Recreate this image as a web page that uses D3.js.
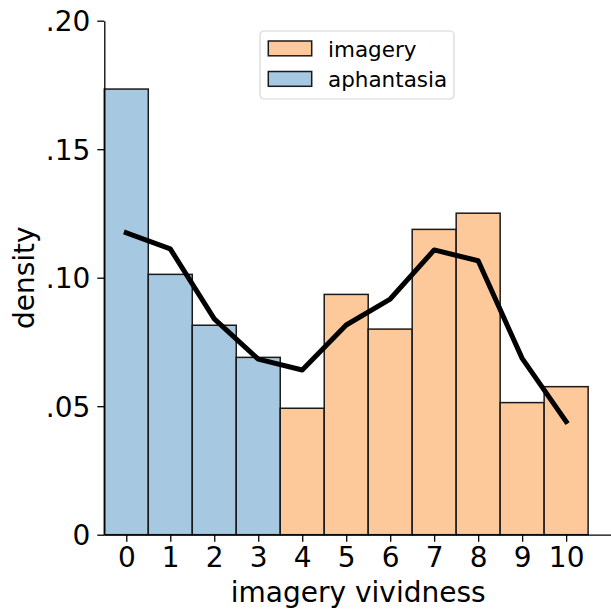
<!DOCTYPE html>
<html>
<head>
<meta charset="utf-8">
<script src="https://cdn.jsdelivr.net/npm/d3@7"></script>
<style>
  body { margin: 0; background: #fff; }
  text { font-family: "DejaVu Sans", sans-serif; fill: #000; }
</style>
</head>
<body>
<script>
// data
var scores = [0, 1, 2, 3, 4, 5, 6, 7, 8, 9, 10];
var aphantasiaScores = [0, 1, 2, 3];
var aphantasiaDensity = [0.1734, 0.1013, 0.0815, 0.0690];
var imageryScores = [4, 5, 6, 7, 8, 9, 10];
var imageryDensity = [0.0492, 0.0935, 0.0800, 0.1188, 0.1251, 0.0514, 0.0576];
var lineDensity = [0.1175, 0.1112, 0.0840, 0.0683, 0.0641, 0.0816, 0.0917, 0.1108, 0.1066, 0.0686, 0.0440];
var yTicks = [0, 0.05, 0.10, 0.15, 0.20];
var yTickLabels = ["0", ".05", ".10", ".15", ".20"];
var legendNames = ["imagery", "aphantasia"];
var legendColors = ["#fdc89a", "#a6c8e0"];

// Step 1: chart size
var svgWidth = 611;
var svgHeight = 610;
var margin = { top: 20.7, right: 0, bottom: 75.3, left: 104.3 };
var height = svgHeight - margin.top - margin.bottom;

var svg = d3.select("body").append("svg")
  .attr("width", svgWidth)
  .attr("height", svgHeight);

var chartGroup = svg.append("g")
  .attr("transform", `translate(${margin.left}, ${margin.top})`);

// Step 2: scales
var xScale = d3.scaleLinear()
  .domain([-0.5, 11.02])
  .range([0, svgWidth - margin.left]);

var yScale = d3.scaleLinear()
  .domain([0, 0.2])
  .range([height, 0]);

// Step 3: bars
function drawBars(xs, ys, color) {
  chartGroup.append("g")
    .selectAll("rect")
    .data(xs)
    .enter()
    .append("rect")
    .attr("x", d => xScale(d - 0.5))
    .attr("width", xScale(1) - xScale(0))
    .attr("y", (d, i) => yScale(ys[i]))
    .attr("height", (d, i) => yScale(0) - yScale(ys[i]))
    .attr("fill", color)
    .attr("stroke", "#1a1a1a")
    .attr("stroke-width", 1.5);
}
drawBars(aphantasiaScores, aphantasiaDensity, legendColors[1]);
drawBars(imageryScores, imageryDensity, legendColors[0]);

// Step 4: line
var line = d3.line()
  .x((d, i) => xScale(scores[i]))
  .y(d => yScale(d));

chartGroup.append("path")
  .datum(lineDensity)
  .attr("d", line)
  .attr("fill", "none")
  .attr("stroke", "#000")
  .attr("stroke-width", 5)
  .attr("stroke-linejoin", "round")
  .attr("stroke-linecap", "square");

// Step 5: axes
var bottomAxis = d3.axisBottom(xScale)
  .tickValues(scores)
  .tickFormat(d3.format("d"))
  .tickSizeInner(7)
  .tickSizeOuter(0)
  .tickPadding(5);

var leftAxis = d3.axisLeft(yScale)
  .tickValues(yTicks)
  .tickFormat((d, i) => yTickLabels[i])
  .tickSizeInner(7)
  .tickSizeOuter(0)
  .tickPadding(7);

var xAxisG = chartGroup.append("g")
  .attr("transform", `translate(0, ${height})`)
  .call(bottomAxis);

var yAxisG = chartGroup.append("g").call(leftAxis);

[xAxisG, yAxisG].forEach(function(g) {
  g.selectAll("path, line").attr("stroke", "#000").attr("stroke-width", 1.3);
  g.selectAll("text")
    .style("font-family", "'DejaVu Sans', sans-serif")
    .style("font-size", "28px")
    .attr("fill", "#000");
});
yAxisG.selectAll("text").attr("dy", "0.36em");

// Step 6: axis labels
chartGroup.append("text")
  .attr("x", (xScale(-0.5) + xScale(10.5)) / 2 + 12)
  .attr("y", 602 - margin.top)
  .attr("text-anchor", "middle")
  .style("font-size", "28px")
  .text("imagery vividness");

chartGroup.append("text")
  .attr("transform", "rotate(-90)")
  .attr("x", -height / 2)
  .attr("y", 34 - margin.left)
  .attr("text-anchor", "middle")
  .style("font-size", "28px")
  .text("density");

// Step 7: legend
var legend = svg.append("g").attr("transform", "translate(260, 31)");
legend.append("rect")
  .attr("width", 194)
  .attr("height", 68)
  .attr("rx", 4)
  .attr("fill", "#fff")
  .attr("fill-opacity", 0.8)
  .attr("stroke", "#d6d6d6")
  .attr("stroke-width", 1.2);

var items = legend.selectAll("g.item")
  .data(legendNames)
  .enter()
  .append("g")
  .attr("class", "item")
  .attr("transform", (d, i) => `translate(0, ${i * 30.5})`);

items.append("rect")
  .attr("x", 8.3)
  .attr("y", 10)
  .attr("width", 43.4)
  .attr("height", 14.8)
  .attr("fill", (d, i) => legendColors[i])
  .attr("stroke", "#1a1a1a")
  .attr("stroke-width", 1.5);

items.append("text")
  .attr("x", 68)
  .attr("y", 25.5)
  .style("font-size", "21.5px")
  .text(d => d);
</script>
</body>
</html>
